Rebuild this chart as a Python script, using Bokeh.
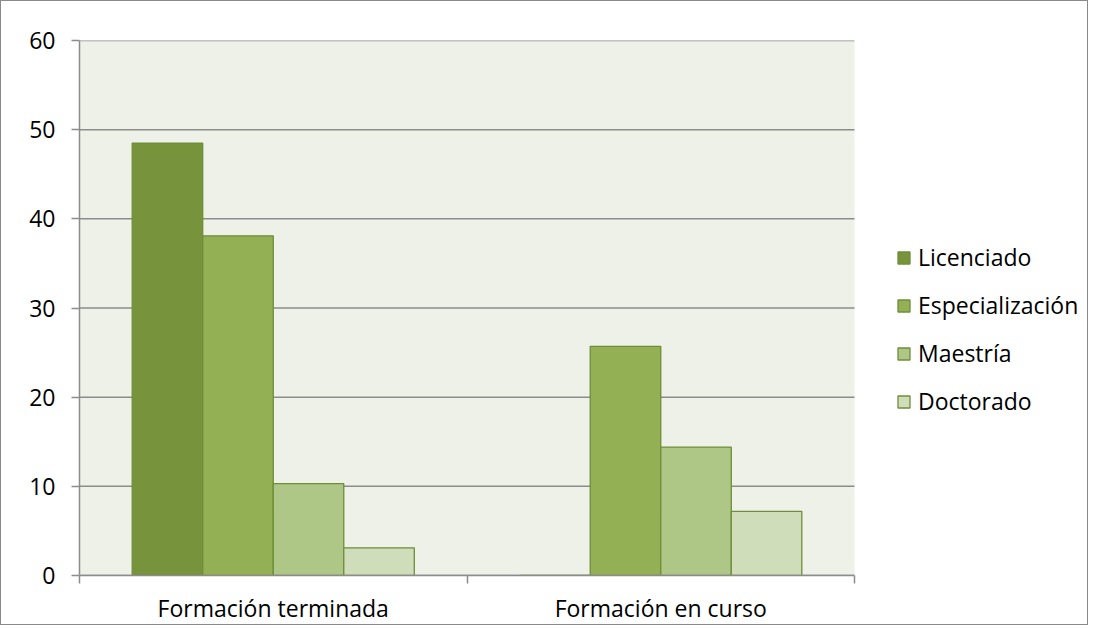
from bokeh.plotting import figure
from bokeh.models import (ColumnDataSource, Range1d, FixedTicker, Legend, LegendItem)
from bokeh.transform import dodge
from bokeh.embed import file_html
from bokeh.resources import INLINE

categories = ["Formación terminada", "Formación en curso"]
series = ["Licenciado", "Especialización", "Maestría", "Doctorado"]
licenciado = [48.5, 0.0]
especializacion = [38.1, 25.7]
maestria = [10.3, 14.4]
doctorado = [3.1, 7.2]
y_ticks = [0, 10, 20, 30, 40, 50, 60]

colors = ["#77933C", "#93B055", "#AEC686", "#CFDDBA"]
line_color = "#6F8E38"
grid_color = "#8C8C8C"
FONT = "Open Sans"

W, H = 1088, 625
LEFT, RIGHT, TOP, BOTTOM = 78, 1, 39, 44
PLOT_W = 775  # pixel width of the shaded plot area
n = len(categories)
frame_w = W - LEFT - RIGHT
x_end = n * frame_w / PLOT_W

xs = [i + 0.5 for i in range(n)]
src = ColumnDataSource(dict(x=xs, Licenciado=licenciado, Especializacion=especializacion,
                            Maestria=maestria, Doctorado=doctorado))
cols = ["Licenciado", "Especializacion", "Maestria", "Doctorado"]

p = figure(width=W, height=H, output_backend="svg", toolbar_location=None,
           x_range=Range1d(0, x_end), y_range=Range1d(y_ticks[0], y_ticks[-1]),
           min_border_left=LEFT, min_border_right=RIGHT, min_border_top=TOP,
           min_border_bottom=BOTTOM)
p.styles = {"border": "1px solid #8a8a8a"}
p.background_fill_color = "white"
p.border_fill_color = "white"
p.outline_line_color = None
p.xgrid.visible = False
p.ygrid.visible = False

# plot-area background and horizontal gridlines (only over the category span)
p.quad(left=[0], right=[n], bottom=[y_ticks[0]], top=[y_ticks[-1]],
       fill_color="#EEF1E8", line_color=None)
p.segment(x0=[0] * len(y_ticks), x1=[n] * len(y_ticks), y0=y_ticks, y1=y_ticks,
          line_color=grid_color, line_width=1.5)

w = 0.182
offsets = [-1.5 * w, -0.5 * w, 0.5 * w, 1.5 * w]
renderers = []
for col, off, c in zip(cols, offsets, colors):
    r = p.vbar(x=dodge("x", off, range=p.x_range), top=col, width=w, bottom=0, source=src,
               fill_color=c, line_color=line_color, line_width=1.3)
    renderers.append(r)

# y axis
p.yaxis.ticker = FixedTicker(ticks=y_ticks)
p.yaxis.axis_line_color = grid_color
p.yaxis.axis_line_width = 1.5
p.yaxis.major_tick_line_color = grid_color
p.yaxis.major_tick_line_width = 1.5
p.yaxis.major_tick_out = 8
p.yaxis.major_tick_in = 0
p.yaxis.minor_tick_line_color = None
p.yaxis.major_label_standoff = 16
p.yaxis.major_label_text_font = FONT
p.yaxis.major_label_text_font_size = "23px"
p.yaxis.major_label_text_color = "black"

# x axis: labels at centers, ticks at category boundaries
p.xaxis.ticker = FixedTicker(ticks=xs, minor_ticks=list(range(n + 1)))
p.xaxis.bounds = (0, n)
p.xaxis.major_label_overrides = {x: c for x, c in zip(xs, categories)}
p.xaxis.axis_line_color = grid_color
p.xaxis.axis_line_width = 1.5
p.xaxis.major_tick_line_color = None
p.xaxis.major_tick_out = 0
p.xaxis.major_tick_in = 0
p.xaxis.minor_tick_line_color = grid_color
p.xaxis.minor_tick_line_width = 1.5
p.xaxis.minor_tick_out = 8
p.xaxis.minor_tick_in = 0
p.xaxis.major_label_standoff = 8
p.xaxis.major_label_text_font = FONT
p.xaxis.major_label_text_font_size = "23px"
p.xaxis.major_label_text_color = "black"

items = [LegendItem(label=s, renderers=[r]) for s, r in zip(series, renderers)]
legend = Legend(items=items, location=(817, 158), orientation="vertical",
                border_line_color=None, background_fill_alpha=0,
                glyph_width=15, glyph_height=15, label_text_font=FONT,
                label_text_font_size="23px", label_text_color="black",
                label_standoff=7, spacing=16,
                padding=0, margin=0, label_height=29)
p.add_layout(legend, "center")

open("out.html", "w").write(file_html(p, INLINE))
